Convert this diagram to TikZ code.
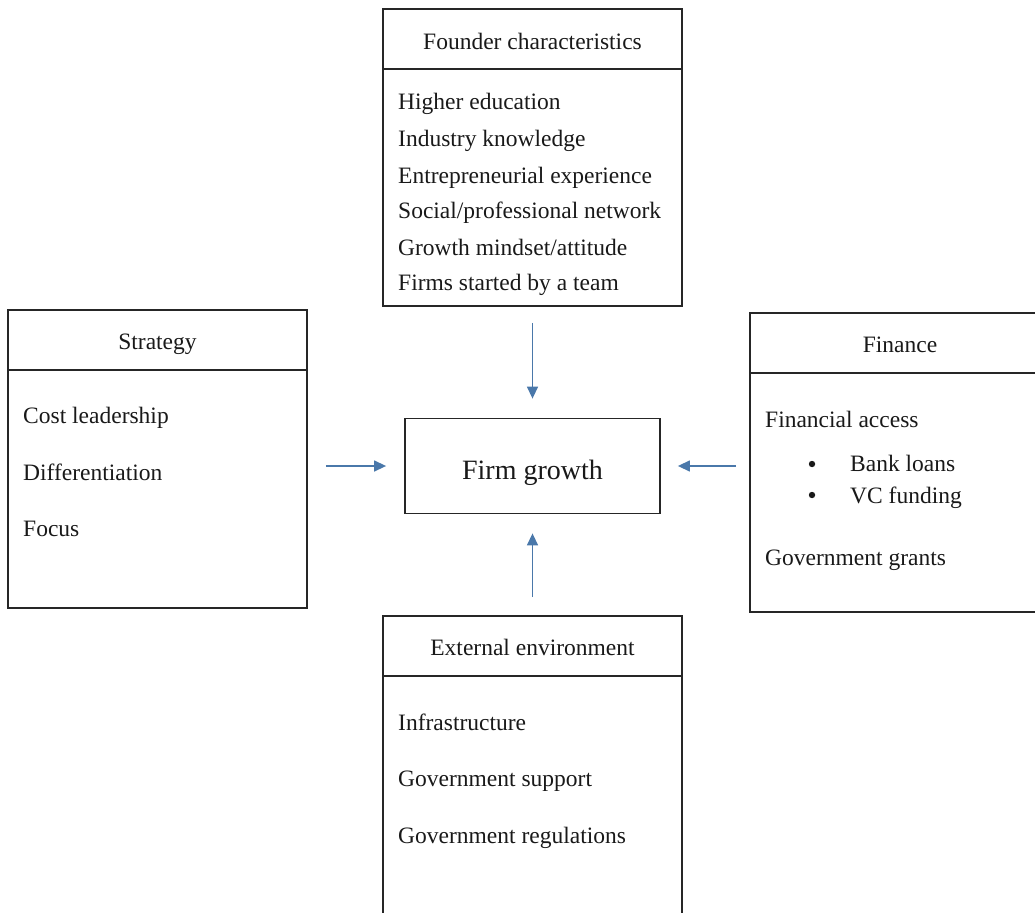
\documentclass[tikz,border=0pt]{standalone}
\usepackage{fontspec}
\setmainfont{Liberation Serif}
\usetikzlibrary{arrows.meta}
\definecolor{arrowblue}{RGB}{74,120,170}
\tikzset{
  box/.style={draw=black!85, line width=1.8pt, rectangle, inner sep=0pt},
  divider/.style={draw=black!85, line width=1.8pt},
  item/.style={anchor=mid west, inner sep=0pt, text=black!90, font=\fontsize{23.5}{28}\selectfont},
  head/.style={anchor=mid, inner sep=0pt, text=black!90, font=\fontsize{23.5}{28}\selectfont},
  arr/.style={draw=arrowblue, line width=1.4pt, -{Triangle[length=12pt,width=11pt]}},
}
\begin{document}
\begin{tikzpicture}[x=1pt,y=-1pt]
\useasboundingbox (0,0) rectangle (1035,912);
\clip (0,0) rectangle (1035,912);
% boxes
\node[box, minimum width=299pt, minimum height=297pt] (founder) at (532.5,157.5) {};
\node[box, minimum width=299pt, minimum height=298pt] (strategy) at (157.5,459) {};
\node[box, minimum width=300pt, minimum height=299pt] (finance) at (900,462.5) {};
\node[box, minimum width=299pt, minimum height=320pt] (external) at (532.5,776) {};
\node[box, minimum width=255pt, minimum height=95pt] (firm) at (532.5,466) {};
% dividers
\draw[divider] (383,69) -- (682,69);
\draw[divider] (8,370) -- (307,370);
\draw[divider] (750,373) -- (1050,373);
\draw[divider] (383,676) -- (682,676);
% headers
\node[head] (fh) at (532.5,47) {Founder characteristics};
\node[head] (sh) at (157.5,347) {Strategy};
\node[head] (nh) at (900,350) {Finance};
\node[head] (eh) at (532.5,653) {External environment};
\node[anchor=mid, inner sep=0pt, text=black!90, font=\fontsize{28}{32}\selectfont] (fg) at (532.5,477) {Firm growth};
% founder items
\node[item] (f1) at (398,107) {Higher education};
\node[item] (f2) at (398,144) {Industry knowledge};
\node[item] (f3) at (398,181) {Entrepreneurial experience};
\node[item] (f4) at (398,216) {Social/professional network};
\node[item] (f5) at (398,253) {Growth mindset/attitude};
\node[item] (f6) at (398,288) {Firms started by a team};
% strategy items
\node[item] (s1) at (23,421) {Cost leadership};
\node[item] (s2) at (23,478) {Differentiation};
\node[item] (s3) at (23,534) {Focus};
% finance items
\node[item] (n1) at (765,425) {Financial access};
\node[item] (n2) at (850,469) {Bank loans};
\node[item] (n3) at (850,501) {VC funding};
\node[item] (n4) at (765,563) {Government grants};
\fill[black!90] (812,464) circle (3.2pt);
\fill[black!90] (812,495) circle (3.2pt);
% external items
\node[item] (e1) at (398,728) {Infrastructure};
\node[item] (e2) at (398,784) {Government support};
\node[item] (e3) at (398,841) {Government regulations};
% arrows
\draw[arr, shorten <=16pt, shorten >=19pt] (founder.south) -- (firm.north);
\draw[arr, shorten <=18pt, shorten >=18pt] (strategy.east |- firm.west) -- (firm.west);
\draw[arr, shorten <=13pt, shorten >=17pt] (finance.west |- firm.east) -- (firm.east);
\draw[arr, shorten <=18pt, shorten >=19pt] (external.north) -- (firm.south);
\end{tikzpicture}
\end{document}
